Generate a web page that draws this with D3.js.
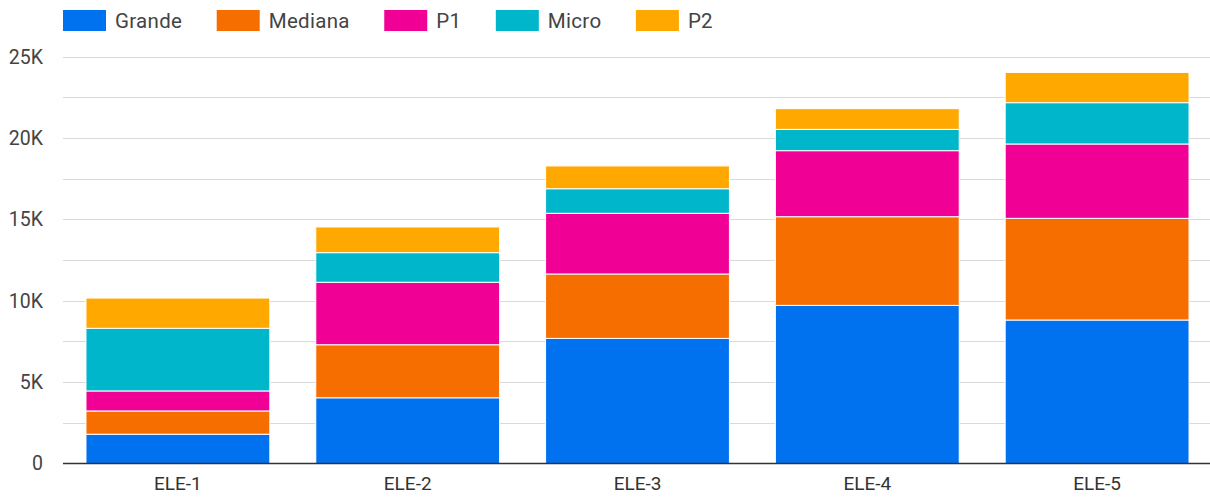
<!DOCTYPE html>
<html>
<head>
<meta charset="utf-8">
<script src="https://cdn.jsdelivr.net/npm/d3@7"></script>
<style>
  html, body { margin: 0; padding: 0; background: #fff; }
  svg { display: block; font-family: Roboto, "Noto Sans", sans-serif; }
</style>
</head>
<body>
<svg id="chart" width="1210" height="497"></svg>
<script>
// Categories and stacked series (values in units)
const categories = ["ELE-1", "ELE-2", "ELE-3", "ELE-4", "ELE-5"];
const seriesNames = ["Grande", "Mediana", "P1", "Micro", "P2"];
const grande  = [1800, 4040, 7690, 9720, 8820];
const mediana = [1430, 3260, 3960, 5450, 6250];
const p1      = [1230, 3840, 3730, 4060, 4570];
const micro   = [3850, 1820, 1510, 1310, 2540];
const p2      = [1860, 1580, 1400, 1270, 1860];
const yTicks = [0, 5000, 10000, 15000, 20000, 25000];
const yTickLabels = ["0", "5K", "10K", "15K", "20K", "25K"];
const colors = ["#0072f0", "#f66d00", "#f10096", "#00b6cb", "#ffa800"];

const seriesValues = [grande, mediana, p1, micro, p2];
const rows = categories.map((c, i) => {
  const r = { category: c };
  seriesNames.forEach((s, k) => { r[s] = seriesValues[k][i]; });
  return r;
});

const svg = d3.select("#chart");
const margin = { top: 57, right: 0, bottom: 34, left: 63 };
const W = 1210, H = 497;

const x = d3.scaleBand()
  .domain(categories)
  .range([margin.left, W - margin.right + 2])
  .paddingInner(0.2)
  .paddingOuter(0.1);

const y = d3.scaleLinear()
  .domain([0, 25000])
  .range([463.5, 56.8]);

// Gridlines every 2.5K
const gridVals = d3.range(2500, 25001, 2500);
svg.append("g")
  .selectAll("line")
  .data(gridVals)
  .join("line")
  .attr("x1", margin.left)
  .attr("x2", W)
  .attr("y1", d => Math.round(y(d)) + 0.5)
  .attr("y2", d => Math.round(y(d)) + 0.5)
  .attr("stroke", "#dadada")
  .attr("stroke-width", 1);

// Stacked bars
const stack = d3.stack().keys(seriesNames);
const layers = stack(rows);
svg.append("g")
  .selectAll("g")
  .data(layers)
  .join("g")
  .attr("fill", (d, i) => colors[i])
  .selectAll("rect")
  .data(d => d)
  .join("rect")
  .attr("x", d => x(d.data.category))
  .attr("width", x.bandwidth())
  .attr("y", d => y(d[1]))
  .attr("height", d => y(d[0]) - y(d[1]))
  .attr("stroke", "#fff")
  .attr("stroke-width", 1);

// Baseline
svg.append("line")
  .attr("x1", margin.left)
  .attr("x2", W)
  .attr("y1", y(0))
  .attr("y2", y(0))
  .attr("stroke", "#333")
  .attr("stroke-width", 1.6);

// Y axis labels
const yAxis = d3.axisLeft(y)
  .tickValues(yTicks)
  .tickFormat((d, i) => yTickLabels[i])
  .tickSize(0)
  .tickPadding(0);
const yg = svg.append("g")
  .attr("transform", `translate(43,0)`)
  .call(yAxis);
yg.select(".domain").remove();
yg.selectAll("text")
  .attr("font-size", 19.5)
  .attr("font-family", "Roboto, sans-serif")
  .attr("fill", "#444");

// X axis labels
const xAxis = d3.axisBottom(x).tickSize(0).tickPadding(0);
const xg = svg.append("g")
  .attr("transform", `translate(0,476)`)
  .call(xAxis);
xg.select(".domain").remove();
xg.selectAll("text")
  .attr("font-size", 19)
  .attr("font-family", "Roboto, sans-serif")
  .attr("fill", "#333")
  .attr("dy", "0.71em");

// Legend
const legend = svg.append("g").attr("transform", "translate(63,10)");
let lx = 0;
seriesNames.forEach((name, i) => {
  const g = legend.append("g").attr("transform", `translate(${lx},0)`);
  g.append("rect")
    .attr("width", 43)
    .attr("height", 21)
    .attr("fill", colors[i]);
  const t = g.append("text")
    .attr("x", 52)
    .attr("y", 10.5)
    .attr("dy", "0.35em")
    .attr("font-size", 20.5)
    .attr("letter-spacing", 0.3)
    .attr("font-family", "Roboto, sans-serif")
    .attr("fill", "#444")
    .text(name);
  const tw = t.node().getComputedTextLength();
  lx += 52 + tw + 34.5;
});
</script>
</body>
</html>
